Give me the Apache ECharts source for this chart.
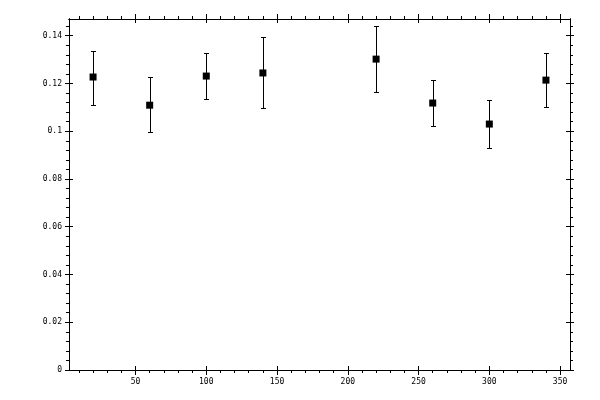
<!DOCTYPE html>
<html>
<head>
<meta charset="utf-8">
<script src="https://cdn.jsdelivr.net/npm/echarts@6/dist/echarts.min.js"></script>
<style>html,body{margin:0;padding:0;background:#fff}#c{width:600px;height:400px}</style>
</head>
<body>
<div id="c"></div>
<script>
const xValues = [20, 60, 100, 140, 220, 260, 300, 340];
const yValues = [0.1227, 0.1109, 0.1231, 0.1244, 0.1302, 0.1118, 0.1030, 0.1214];
const yLow    = [0.1109, 0.0996, 0.1135, 0.1097, 0.1164, 0.1021, 0.0931, 0.1101];
const yHigh   = [0.1338, 0.1227, 0.1327, 0.1393, 0.1441, 0.1214, 0.1130, 0.1327];

const xMajorTicks = [50, 100, 150, 200, 250, 300, 350];
const xMinorTicks = [10, 20, 30, 40, 60, 70, 80, 90, 110, 120, 130, 140, 160, 170, 180, 190,
                     210, 220, 230, 240, 260, 270, 280, 290, 310, 320, 330, 340];
const yMajorTicks = [0, 0.02, 0.04, 0.06, 0.08, 0.1, 0.12, 0.14];
const yMinorTicks = [0.004, 0.008, 0.012, 0.016, 0.024, 0.028, 0.032, 0.036, 0.044, 0.048, 0.052, 0.056,
                     0.064, 0.068, 0.072, 0.076, 0.084, 0.088, 0.092, 0.096, 0.104, 0.108, 0.112, 0.116,
                     0.124, 0.128, 0.132, 0.136, 0.144];

const X_MIN = 3, X_MAX = 357, Y_MIN = 0, Y_MAX = 0.147;
const FONT = 'DejaVu Sans Mono';

function mkAxis(kind, position, ticks, len, inside, labels) {
  const a = {
    type: 'value',
    position: position,
    min: kind === 'x' ? X_MIN : Y_MIN,
    max: kind === 'x' ? X_MAX : Y_MAX,
    axisLine: { show: true, onZero: false, lineStyle: { color: '#000', width: 1 } },
    axisTick: { show: true, inside: inside, length: len, customValues: ticks,
                lineStyle: { color: '#000', width: 1 } },
    axisLabel: { show: !!labels },
    splitLine: { show: false },
    minorTick: { show: false }
  };
  if (labels) {
    a.axisLabel = {
      show: true, customValues: labels, color: '#000',
      fontFamily: FONT, fontSize: 8,
      margin: kind === 'x' ? 8 : 7,
      formatter: v => String(+(+v).toFixed(4))
    };
  }
  return a;
}

const xAxes = [
  mkAxis('x', 'bottom', xMajorTicks, 5, false, xMajorTicks),
  mkAxis('x', 'bottom', xMajorTicks, 4, true),
  mkAxis('x', 'bottom', xMinorTicks, 3, false),
  mkAxis('x', 'top', xMajorTicks, 5, false),
  mkAxis('x', 'top', xMajorTicks, 4, true),
  mkAxis('x', 'top', xMinorTicks, 3, false)
];
const yAxes = [
  mkAxis('y', 'left', yMajorTicks, 4, false, yMajorTicks),
  mkAxis('y', 'left', yMajorTicks, 4, true),
  mkAxis('y', 'left', yMinorTicks, 3, false),
  mkAxis('y', 'right', yMajorTicks, 4, false),
  mkAxis('y', 'right', yMajorTicks, 4, true),
  mkAxis('y', 'right', yMinorTicks, 3, false)
];

const errData = xValues.map((x, i) => [x, yLow[i], yHigh[i]]);
const ptData = xValues.map((x, i) => [x, yValues[i]]);

const chart = echarts.init(document.getElementById('c'), null, { renderer: 'canvas' });
chart.setOption({
  animation: false,
  backgroundColor: '#fff',
  grid: { left: 69, right: 30, top: 19, bottom: 30, containLabel: false },
  xAxis: xAxes,
  yAxis: yAxes,
  series: [
    {
      type: 'custom',
      xAxisIndex: 0, yAxisIndex: 0,
      data: errData,
      encode: { x: 0, y: [1, 2] },
      z: 2,
      renderItem: function (params, api) {
        const x = api.value(0);
        const lo = api.coord([x, api.value(1)]);
        const hi = api.coord([x, api.value(2)]);
        const cx = Math.round(lo[0]) + 0.5;
        const yl = Math.round(lo[1]) + 0.5;
        const yh = Math.round(hi[1]) + 0.5;
        const cap = 2.5;
        const st = { stroke: '#000', lineWidth: 1 };
        return {
          type: 'group',
          children: [
            { type: 'line', shape: { x1: cx, y1: yl, x2: cx, y2: yh }, style: st },
            { type: 'line', shape: { x1: cx - cap, y1: yl, x2: cx + cap, y2: yl }, style: st },
            { type: 'line', shape: { x1: cx - cap, y1: yh, x2: cx + cap, y2: yh }, style: st }
          ]
        };
      }
    },
    {
      type: 'scatter',
      xAxisIndex: 0, yAxisIndex: 0,
      data: ptData,
      symbol: 'rect',
      symbolSize: 7,
      itemStyle: { color: '#000', opacity: 1 },
      z: 3
    }
  ]
});
</script>
</body>
</html>
